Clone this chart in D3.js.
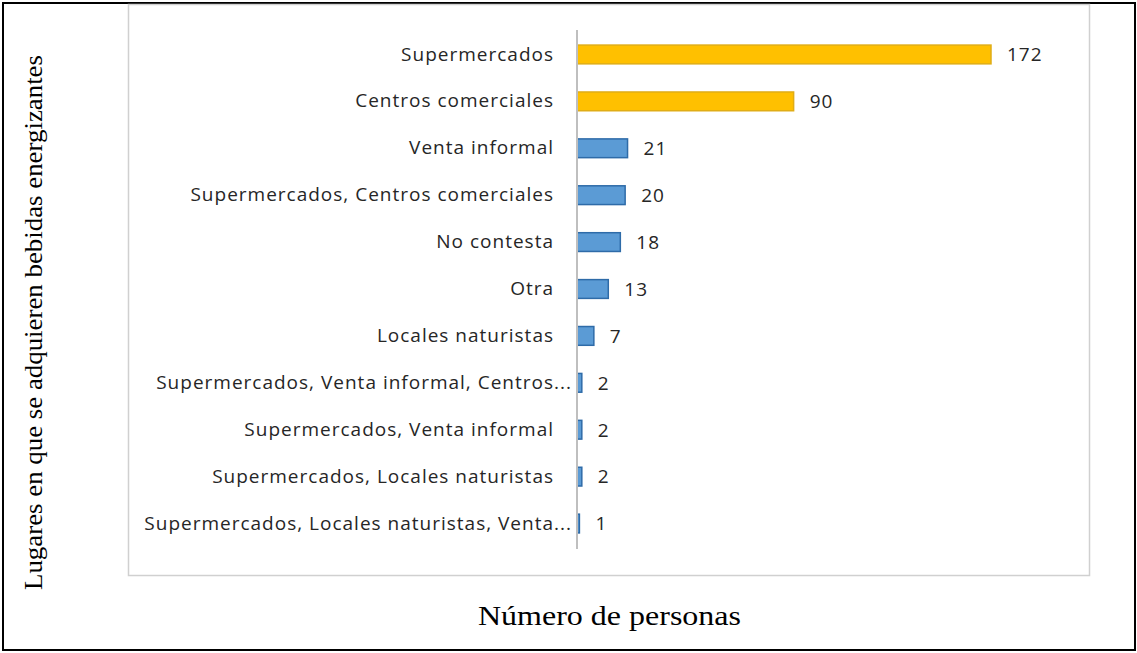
<!DOCTYPE html>
<html>
<head>
<meta charset="utf-8">
<script src="https://cdn.jsdelivr.net/npm/d3@7"></script>
<style>
  body { margin: 0; background: #fff; }
  svg { display: block; }
</style>
</head>
<body>
<div id="chart"></div>
<script>
// datos
var categorias = [
  "Supermercados",
  "Centros comerciales",
  "Venta informal",
  "Supermercados, Centros comerciales",
  "No contesta",
  "Otra",
  "Locales naturistas",
  "Supermercados, Venta informal, Centros...",
  "Supermercados, Venta informal",
  "Supermercados, Locales naturistas",
  "Supermercados, Locales naturistas, Venta..."
];
var personas = [172, 90, 21, 20, 18, 13, 7, 2, 2, 2, 1];
var destacados = ["Supermercados", "Centros comerciales"];

var W = 1137, H = 653;

function drawChart() {
    var svg = d3.select('#chart')
        .append('svg')
        .attr('width', W)
        .attr('height', H);

    // marco exterior negro
    svg.append('rect')
        .attr('x', 3).attr('y', 3)
        .attr('width', W - 5).attr('height', H - 6)
        .attr('fill', 'none')
        .attr('stroke', '#000')
        .attr('stroke-width', 2);

    // area del grafico
    svg.append('rect')
        .attr('x', 128.5).attr('y', 4.5)
        .attr('width', 961).attr('height', 571)
        .attr('fill', '#fff')
        .attr('stroke', '#d0d0d0')
        .attr('stroke-width', 1.5);

    var x = d3.scaleLinear().domain([0, 172]).range([577, 991]);
    var y = d3.scaleBand().domain(categorias).range([31, 547]).paddingInner(0.6).paddingOuter(0.3);

    var datos = categorias.map(function(c, i) { return {cat: c, val: personas[i]}; });

    svg.selectAll('rect.bar')
        .data(datos)
        .enter().append('rect')
        .attr('class', 'bar')
        .attr('x', x(0))
        .attr('y', function(d) { return y(d.cat); })
        .attr('width', function(d) { return x(d.val) - x(0); })
        .attr('height', y.bandwidth())
        .attr('fill', function(d) { return destacados.indexOf(d.cat) >= 0 ? '#ffc000' : '#5b9bd5'; })
        .attr('stroke', function(d) { return destacados.indexOf(d.cat) >= 0 ? '#e0ad16' : '#2e6ba8'; })
        .attr('stroke-width', 1.5);

    // eje vertical
    var eje = svg.append('g')
        .attr('transform', 'translate(' + x(0) + ',0)')
        .call(d3.axisLeft(y).tickSize(0).tickPadding(23));
    eje.select('.domain')
        .attr('stroke', '#bfbfbf')
        .attr('stroke-width', 2)
        .attr('d', 'M0,' + 30 + 'V' + 549);
    eje.selectAll('text')
        .attr('fill', '#262626')
        .attr('dx', function(d) { return d.slice(-3) == '...' ? 18 : 0; })
        .style('font-family', 'Open Sans, sans-serif')
        .style('font-size', '19px')
        .style('letter-spacing', '1px');

    // etiquetas de valores
    svg.selectAll('text.valor')
        .data(datos)
        .enter().append('text')
        .attr('class', 'valor')
        .attr('x', function(d) { return x(d.val) + 16; })
        .attr('y', function(d) { return y(d.cat) + y.bandwidth() / 2; })
        .attr('dy', '0.36em')
        .attr('fill', '#262626')
        .style('font-family', 'Open Sans, sans-serif')
        .style('font-size', '19px')
        .style('letter-spacing', '1px')
        .text(function(d) { return d.val; });

    // titulos
    svg.append('text')
        .attr('x', 478).attr('y', 625)
        .attr('textLength', 263)
        .attr('lengthAdjust', 'spacingAndGlyphs')
        .style('font-family', 'Liberation Serif, serif')
        .style('font-size', '28px')
        .text('Número de personas');

    svg.append('text')
        .attr('transform', 'translate(42,590) rotate(-90)')
        .attr('textLength', 535)
        .attr('lengthAdjust', 'spacingAndGlyphs')
        .style('font-family', 'Liberation Serif, serif')
        .style('font-size', '25px')
        .text('Lugares en que se adquieren bebidas energizantes');
}
drawChart();
</script>
</body>
</html>
